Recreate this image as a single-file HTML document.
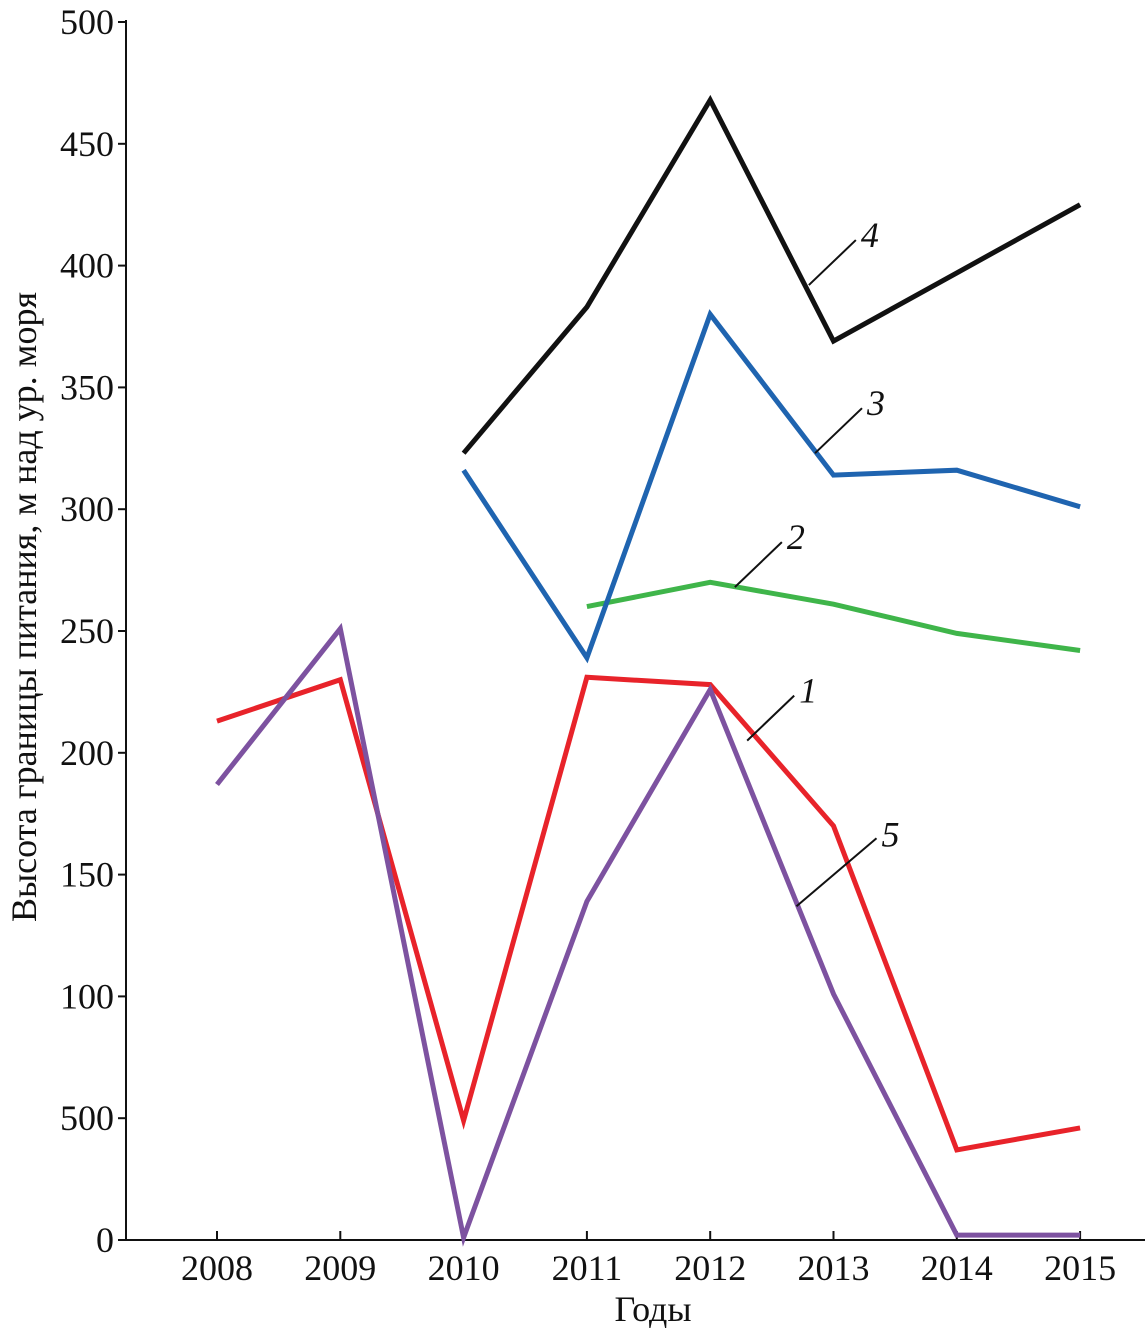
<!DOCTYPE html>
<html><head><meta charset="utf-8"><style>
html,body{margin:0;padding:0;background:#fff}
svg{display:block}
text{font-family:"Liberation Serif",serif;fill:#111}
</style></head><body>
<svg id="chart" width="1145" height="1334" viewBox="0 0 1145 1334" xmlns="http://www.w3.org/2000/svg">
<g id="axes"></g>
<g id="series"></g>
<g id="labels"></g>
<text transform="translate(36,607) rotate(-90)" text-anchor="middle" font-size="36">Высота границы питания, м над ур. моря</text>
<text x="653" y="1321" text-anchor="middle" font-size="36">Годы</text>
</svg>
<script>
const years = [2008,2009,2010,2011,2012,2013,2014,2015];
const yTicks = [0,50,100,150,200,250,300,350,400,450,500];
const yTickLabels = ["0","500","100","150","200","250","300","350","400","450","500"];
const s1 = [213,230,49,231,228,170,37,46];
const s2 = [null,null,null,260,270,261,249,242];
const s3 = [null,null,316,239,380,314,316,301];
const s4 = [null,null,323,383,468,369,397,425];
const s5 = [187,251,1,139,226,101,2,2];
const seriesNames = ["1","2","3","4","5"];
const seriesColors = ["#e8232a","#3fb54a","#1f64b0","#111111","#7d52a0"];
const seriesData = [s1,s2,s3,s4,s5];
const labelAnchor = [[2012.3,205],[2012.2,268],[2012.85,323],[2012.8,392],[2012.7,137]];

const NS="http://www.w3.org/2000/svg";
const X0=126, X1=1145, Y0=1240, Y1=22;
function xs(yr){return 217+(yr-2008)*123.3;}
function ys(v){return Y0-(v/500)*(Y0-Y1);}
function el(tag,attrs,parent){const e=document.createElementNS(NS,tag);for(const k in attrs)e.setAttribute(k,attrs[k]);parent.appendChild(e);return e;}

const axes=document.getElementById('axes');
let a=el('line',{x1:X0,y1:Y1-2,x2:X0,y2:Y0,stroke:'#111','stroke-width':2},axes);


a=el('line',{x1:X0,y1:Y0,x2:X1,y2:Y0,stroke:'#111','stroke-width':2},axes);


yTicks.forEach((v,i)=>{
  const t=el('line',{x1:X0-8,y1:ys(v),x2:X0,y2:ys(v),stroke:'#111','stroke-width':2},axes);
  
  
  const tx=el('text',{x:X0-12,y:ys(v)+12,'text-anchor':'end','font-size':36},axes);
  tx.textContent=yTickLabels[i];
  
  
});
years.forEach(yr=>{
  const t=el('line',{x1:xs(yr),y1:Y0-9,x2:xs(yr),y2:Y0,stroke:'#111','stroke-width':2},axes);
  
  
  const tx=el('text',{x:xs(yr),y:Y0+40,'text-anchor':'middle','font-size':36},axes);
  tx.textContent=String(yr);
  
  
});
const sg=document.getElementById('series');
seriesData.forEach((d,i)=>{
  const pts=[];
  d.forEach((v,j)=>{if(v!==null)pts.push(xs(years[j]).toFixed(1)+','+ys(v).toFixed(1));});
  const p=el('polyline',{points:pts.join(' '),fill:'none',stroke:seriesColors[i],'stroke-width':5,'stroke-linejoin':'miter'},sg);
  
  
});
const lg=document.getElementById('labels');
labelAnchor.forEach((an,i)=>{
  const x=xs(an[0]), y=ys(an[1]);
  const l=el('line',{x1:x,y1:y,x2:x+(i===4?80:47),y2:y-(i===4?68:45),stroke:'#111','stroke-width':2},lg);
  
  
  const t=el('text',{x:x+(i===4?85:52),y:y-(i===4?60:38),'font-size':36,'font-style':'italic'},lg);
  t.textContent=seriesNames[i];
  
  
});
</script>
</body></html>
